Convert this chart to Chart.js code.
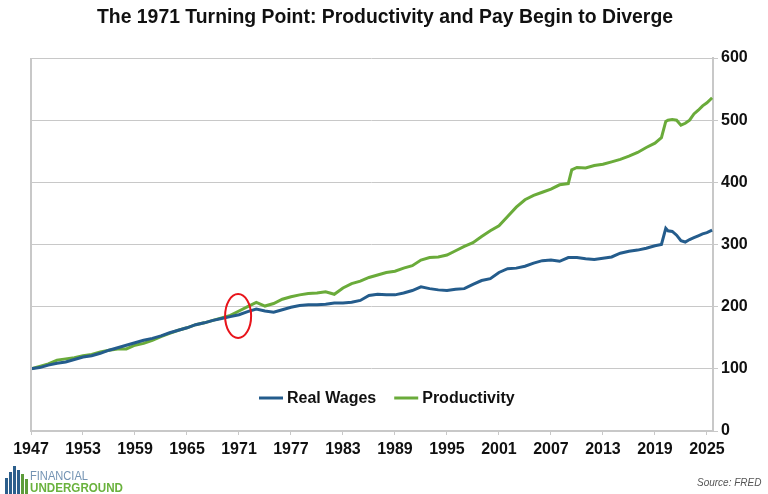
<!DOCTYPE html>
<html>
<head>
<meta charset="utf-8">
<script src="https://cdn.jsdelivr.net/npm/chart.js@4.4.1/dist/chart.umd.min.js"></script>
<style>
  html, body { margin: 0; padding: 0; background: #fff; }
  #wrap { position: relative; width: 768px; height: 494px; }
  #logo { position: absolute; left: 4px; top: 464px; }
  #source { position: absolute; left: 697px; top: 477px; font: italic 10px "Liberation Sans", Arial, sans-serif; color: #555; }
</style>
</head>
<body>
<div id="wrap">
  <canvas id="mychart" width="768" height="494"></canvas>
  <svg id="logo" width="130" height="30" viewBox="0 0 130 30">
    <rect x="1" y="14" width="3" height="16" fill="#2c5f8c"/>
    <rect x="5" y="8" width="3" height="22" fill="#2c5f8c"/>
    <rect x="9" y="2" width="3" height="28" fill="#2c5f8c"/>
    <rect x="13" y="6" width="3" height="24" fill="#2c5f8c"/>
    <rect x="17" y="10" width="3" height="20" fill="#5d9c3a"/>
    <rect x="21" y="15" width="3" height="15" fill="#5d9c3a"/>
    <text x="26" y="16" textLength="58" lengthAdjust="spacingAndGlyphs" font-family="Liberation Sans, sans-serif" font-size="13" fill="#7393b3">FINANCIAL</text>
    <text x="26" y="28" textLength="93" lengthAdjust="spacingAndGlyphs" font-family="Liberation Sans, sans-serif" font-weight="bold" font-size="12.5" fill="#6ab23d">UNDERGROUND</text>
  </svg>
  <div id="source">Source: FRED</div>
</div>
<script>
const years = [1947, 1948, 1949, 1950, 1951, 1952, 1953, 1954, 1955, 1956,
  1957, 1958, 1959, 1960, 1961, 1962, 1963, 1964, 1965, 1966,
  1967, 1968, 1969, 1970, 1971, 1972, 1973, 1974, 1975, 1976,
  1977, 1978, 1979, 1980, 1981, 1982, 1983, 1984, 1985, 1986,
  1987, 1988, 1989, 1990, 1991, 1992, 1993, 1994, 1995, 1996,
  1997, 1998, 1999, 2000, 2001, 2002, 2003, 2004, 2005, 2006,
  2007, 2008, 2009, 2009.4, 2010, 2011, 2012, 2013, 2014, 2015,
  2016, 2017, 2018, 2019, 2019.75, 2020.25, 2020.5, 2021, 2021.5, 2022,
  2022.5, 2023, 2023.5, 2024, 2024.5, 2025, 2025.6]

const realWages = [100, 102, 106, 109, 111, 115, 119, 121, 125, 130,
  134, 138, 142, 146, 149, 153, 158, 162, 166, 171,
  174, 178, 181, 184, 187, 192, 196, 193, 191, 195,
  199, 202, 203, 203, 204, 206, 206, 207, 210, 218,
  220, 219, 219, 222, 226, 232, 229, 227, 226, 228,
  229, 236, 242, 245, 255, 261, 262, 265, 270, 274,
  275, 273, 279, 279, 279, 277, 276, 278, 280, 286,
  289, 291, 294, 298, 300, 326, 322, 321, 315, 306,
  304, 308, 311, 314, 317, 319, 323]

const productivity = [100, 104, 108, 114, 116, 118, 121, 123, 127, 130,
  132, 132, 138, 141, 146, 152, 157, 162, 166, 171,
  174, 178, 182, 186, 193, 200, 207, 201, 205, 212,
  216, 219, 221, 222, 224, 220, 230, 237, 241, 247,
  251, 255, 257, 262, 266, 275, 279, 280, 283, 290,
  297, 303, 313, 322, 330, 345, 360, 372, 379, 384,
  389, 396, 398, 420, 424, 423, 427, 429, 433, 437,
  442, 448, 456, 463, 472, 498, 500, 501, 500, 492,
  495, 500, 510, 516, 523, 528, 536]

const tickYears = [1947, 1953, 1959, 1965, 1971, 1977, 1983, 1989, 1995, 2001, 2007, 2013, 2019, 2025]

const chartTitle = 'The 1971 Turning Point: Productivity and Pay Begin to Diverge'

const toPoints = vals => vals.map((v, i) => ({ x: years[i], y: v }))

const tickFont = { family: '"Liberation Sans", Arial, sans-serif', size: 16, weight: 'bold' }

// title, left border, red circle round 1971, legend inside the plot
const extras = {
    id: 'extras',
    afterDraw(chart) {
        const ctx = chart.ctx
        const a = chart.chartArea
        const sx = chart.scales.x
        const sy = chart.scales.y
        ctx.save()
        ctx.fillStyle = '#111'
        ctx.font = 'bold 19.4px "Liberation Sans", Arial, sans-serif'
        ctx.textAlign = 'center'
        ctx.textBaseline = 'middle'
        ctx.fillText(chartTitle, 385, 18)

        ctx.strokeStyle = '#c8c8c8'
        ctx.lineWidth = 2
        ctx.beginPath()
        ctx.moveTo(a.left, a.top)
        ctx.lineTo(a.left, a.bottom)
        ctx.stroke()

        ctx.strokeStyle = '#e8141b'
        ctx.lineWidth = 2
        ctx.beginPath()
        ctx.ellipse(sx.getPixelForValue(1970.9), sy.getPixelForValue(185), 13, 22, 0, 0, Math.PI * 2)
        ctx.stroke()

        ctx.font = 'bold 16px "Liberation Sans", Arial, sans-serif'
        ctx.textAlign = 'left'
        let x = 259
        const y = 398
        chart.data.datasets.forEach(ds => {
            ctx.strokeStyle = ds.borderColor
            ctx.lineWidth = 3
            ctx.beginPath()
            ctx.moveTo(x, y)
            ctx.lineTo(x + 24, y)
            ctx.stroke()
            ctx.fillStyle = '#111'
            ctx.fillText(ds.label, x + 28, y + 1)
            x += 28 + ctx.measureText(ds.label).width + 18
        })
        ctx.restore()
    }
}

const config = {
    type: 'line',
    data: {
        datasets: [
            {
                label: 'Real Wages',
                data: toPoints(realWages),
                borderColor: '#245c8c',
                backgroundColor: '#245c8c',
                borderWidth: 3,
                pointRadius: 0,
                tension: 0
            },
            {
                label: 'Productivity',
                data: toPoints(productivity),
                borderColor: '#6aab3a',
                backgroundColor: '#6aab3a',
                borderWidth: 3,
                pointRadius: 0,
                tension: 0
            }
        ]
    },
    options: {
        responsive: false,
        animation: false,
        layout: { padding: { left: 31, right: 0, top: 58, bottom: 0 } },
        plugins: {
            legend: { display: false },
            tooltip: { enabled: false },
            title: { display: false }
        },
        scales: {
            x: {
                type: 'linear',
                min: 1947,
                max: 2025.7,
                afterBuildTicks: s => { s.ticks = tickYears.map(v => ({ value: v })) },
                afterFit: s => { s.height = 63 },
                grid: { drawOnChartArea: false, drawTicks: true, tickLength: 4, color: '#c8c8c8' },
                border: { display: true, color: '#c8c8c8', width: 2 },
                ticks: { color: '#111', font: tickFont, padding: 5, maxRotation: 0, autoSkip: false, callback: v => String(v) }
            },
            y: {
                position: 'right',
                min: 0,
                max: 600,
                afterFit: s => { s.width = 55 },
                grid: { color: '#c8c8c8', lineWidth: 1, tickLength: 5 },
                border: { display: true, color: '#c8c8c8', width: 2 },
                ticks: { stepSize: 100, color: '#111', font: tickFont, padding: 3 }
            }
        }
    },
    plugins: [extras]
}

const myChart = new Chart(document.querySelector('#mychart'), config)
</script>
</body>
</html>
